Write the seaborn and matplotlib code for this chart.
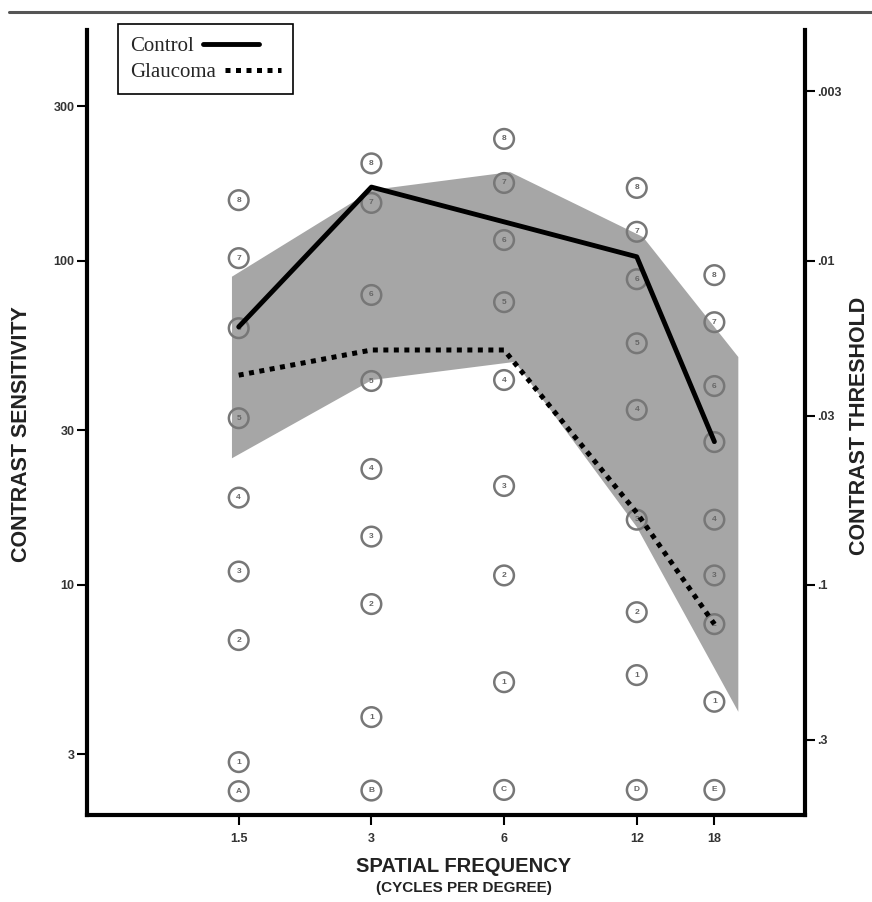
import numpy as np
import pandas as pd
import matplotlib
matplotlib.use("Agg")
import matplotlib.pyplot as plt
import matplotlib.ticker as mticker
from matplotlib.lines import Line2D
import seaborn as sns

# spatial frequencies (cycles per degree)
freq = [1.5, 3, 6, 12, 18]
freq_labels = ["1.5", "3", "6", "12", "18"]

# mean curves
control = [62.6, 169, 132, 103, 27.7]
glaucoma = [44.4, 53.1, 53.1, 16.7, 7.57]

# shaded normal range (outline of the grey band)
band_upper_freq = [1.448, 3.02, 6.19, 12.4, 20.4]
band_upper = [89.4, 165.6, 188, 118.5, 50.5]
band_lower_freq = [1.448, 3.01, 6.35, 12.0, 20.4]
band_lower = [24.6, 42.9, 48.8, 15.1, 4.06]

# chart patches (circles) in each column, top to bottom
levels_1_5 = [154, 102, 62, 32.7, 18.6, 11.0, 6.76, 2.84, 2.31]
levels_3 = [200, 151, 78.5, 42.6, 22.8, 14.1, 8.73, 3.91, 2.32]
levels_6 = [238, 174, 116, 74.6, 42.9, 20.2, 10.7, 5.01, 2.33]
levels_12 = [168, 123, 87.8, 55.7, 34.7, 15.9, 8.24, 5.27, 2.33]
levels_18 = [90.4, 64.7, 41.1, 27.6, 15.9, 10.7, 7.57, 4.36, 2.33]
patch_numbers = ["8", "7", "6", "5", "4", "3", "2", "1"]
row_letters = ["A", "B", "C", "D", "E"]

sens_ticks = [300, 100, 30, 10, 3]
sens_labels = ["300", "100", "30", "10", "3"]
thresh_ticks = [0.003, 0.01, 0.03, 0.1, 0.3]
thresh_labels = [".003", ".01", ".03", ".1", ".3"]


def inv(v):
    v = np.asarray(v, dtype=float)
    with np.errstate(divide="ignore"):
        return 1.0 / v


rows = []
for f, lv, letter in zip(freq, [levels_1_5, levels_3, levels_6, levels_12, levels_18], row_letters):
    for lab, val in zip(patch_numbers + [letter], lv):
        rows.append({"freq": f, "level": val, "label": lab})
patches = pd.DataFrame(rows)

sns.set_theme(style="ticks")
plt.rcParams["font.family"] = ["Liberation Sans", "DejaVu Sans"]

fig = plt.figure(figsize=(8.72, 9.02), dpi=100)
ax = fig.add_axes([87 / 872, 1 - 815 / 902, 718 / 872, 785 / 902])
ax.set_xscale("log")
ax.set_yscale("log")

# grey band
ax.fill(band_upper_freq + band_lower_freq[::-1], band_upper + band_lower[::-1],
        color="#a6a6a6", lw=0, zorder=1)

# circles
sns.scatterplot(data=patches, x="freq", y="level", ax=ax, s=200, legend=False, zorder=2)
coll = ax.collections[-1]
coll.set_facecolor("none")
coll.set_edgecolor("#777777")
coll.set_linewidth(1.8)
for _, r in patches.iterrows():
    ax.text(r["freq"], r["level"], r["label"], ha="center", va="center",
            fontsize=6, color="#666666", fontweight="bold", zorder=3)

# curves
sns.lineplot(x=freq, y=control, ax=ax, color="black", linewidth=3.5,
             label="Control", zorder=4)
sns.lineplot(x=freq, y=glaucoma, ax=ax, color="black", linewidth=3.6,
             linestyle=(0, (1, 1.1)), dash_capstyle="butt", label="Glaucoma", zorder=4)

ax.set_xlim(0.679, 28.9)
ax.set_ylim(1.95, 516)
ax.set_xlabel("")
ax.set_ylabel("")

ax.set_xticks(freq, labels=freq_labels)
ax.set_yticks(sens_ticks, labels=sens_labels)
ax.xaxis.set_minor_locator(mticker.NullLocator())
ax.yaxis.set_minor_locator(mticker.NullLocator())
ax.tick_params(axis="both", which="major", length=7, width=1.5, labelsize=9,
               color="black", labelcolor="#333333", pad=2)
ax.tick_params(axis="x", pad=6)
for lab in ax.get_xticklabels() + ax.get_yticklabels():
    lab.set_fontweight("bold")

ax.spines["top"].set_visible(False)
for side in ["left", "bottom", "right"]:
    ax.spines[side].set_linewidth(3)
    ax.spines[side].set_color("black")

secax = ax.secondary_yaxis("right", functions=(inv, inv))
secax.set_yticks(thresh_ticks, labels=thresh_labels)
secax.yaxis.set_minor_locator(mticker.NullLocator())
secax.spines["right"].set_visible(False)
secax.tick_params(axis="y", which="major", length=7, width=1.5, labelsize=9,
                  color="black", labelcolor="#333333", pad=2)
for lab in secax.get_yticklabels():
    lab.set_fontweight("bold")

leg = ax.legend(loc="upper left", bbox_to_anchor=(118 / 872, 1 - 24 / 902),
                bbox_transform=fig.transFigure, markerfirst=False, frameon=True,
                fancybox=False, framealpha=1, edgecolor="black",
                prop={"family": "Liberation Serif", "size": 15},
                handlelength=2.7, handletextpad=0.4, borderpad=0.6,
                labelspacing=0.3, borderaxespad=0)
leg.get_frame().set_linewidth(1.2)
# rows left aligned: handle right after its own label
for col in leg._legend_handle_box.get_children():
    col.align = "left"

fig.text(22 / 872, 1 - 434 / 902, "CONTRAST SENSITIVITY", rotation=90,
         ha="center", va="center", fontsize=15.5, fontweight="bold", color="#222222")
fig.text(859 / 872, 1 - 426 / 902, "CONTRAST THRESHOLD", rotation=90,
         ha="center", va="center", fontsize=15.5, fontweight="bold", color="#222222")
fig.text(464 / 872, 1 - 867 / 902, "SPATIAL FREQUENCY", ha="center", va="center",
         fontsize=14.5, fontweight="bold", color="#222222")
fig.text(464 / 872, 1 - 888 / 902, "(CYCLES PER DEGREE)", ha="center", va="center",
         fontsize=11, fontweight="bold", color="#222222")

# scan border line at the top
fig.add_artist(Line2D([0.01, 1.0], [1 - 12 / 902, 1 - 12 / 902],
                      transform=fig.transFigure, color="#555555", lw=2.2))

fig.savefig("out.png", dpi=100)
